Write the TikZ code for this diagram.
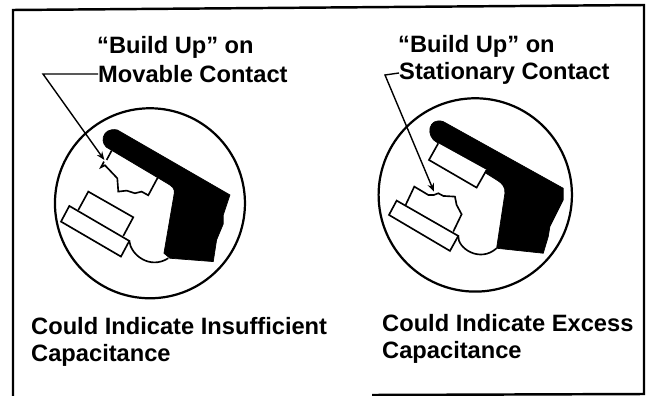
\documentclass[tikz,border=0pt]{standalone}
\usepackage{fontspec}
\setmainfont{Liberation Sans}
\usetikzlibrary{arrows.meta,positioning}

\begin{document}
\begin{tikzpicture}[
   x=0.03cm, y=-0.03cm, >={Stealth[length=7pt,width=5.5pt]},
   lbl/.style={font=\fontsize{20.2}{23}\selectfont\bfseries, anchor=west, inner sep=0pt, align=left},
   leader/.style={->, line width=1.2pt},
   rim/.style={line width=1.9pt},
   part/.style={line width=1.4pt, line join=miter, fill=white},
   solid/.style={fill=black, draw=black, line width=0.6pt},
   frameline/.style={line width=2.1pt}]
  \useasboundingbox (0,0) rectangle (647,396);
  % outer frame, open at lower left
  \draw[frameline] (13,396) -- (13,10) -- (644,5) -- (644,394) -- (372,395);
  % labels
  \node[lbl] (bu1) at (97,47) {``Build Up'' on};
  \node[lbl] (mc1) at (98,74) {Movable Contact};
  \node[lbl] (bu2) at (398,46) {``Build Up'' on};
  \node[lbl] (sc2) at (399,73) {Stationary Contact};
  \node[lbl] (ci1) at (31,342) {Could Indicate Insufficient\\ Capacitance};
  \node[lbl] (ci2) at (382,339) {Could Indicate Excess\\ Capacitance};
  % left detail
  \begin{scope}[shift={(60,80)}, x=0.01cm, y=-0.01cm]
    \node[circle, draw, rim, minimum size=5.7cm, inner sep=0pt] (rim1) at (270,370) {};
    \draw[solid] (172,150) -- (510,345) -- (490,405) -- (490,432) -- (470,480) -- (460,545)
       -- (330,535) -- (312,520) -- (343,340) .. controls (345,325) and (335,318) .. (325,312)
       -- (150,208) .. controls (115,195) and (125,140) .. (172,150) -- cycle;
    \draw[part, fill=none] (155,212) -- (140,240);
    \draw[part, fill=none] (132,245) -- (123,262) -- (135,256) -- (172,295) -- (175,335)
       -- (200,332) -- (225,340) -- (245,335) -- (265,346) -- (295,290);
    \draw[part] (55,390) -- (85,335) -- (220,412) -- (190,468);
    \draw[part] (28,378) -- (208,483) -- (183,530) -- (3,425) -- cycle;
    \draw[part, fill=none] (208,483) .. controls (212,525) and (270,570) .. (325,535);
    \coordinate (tip1) at (133,240);
  \end{scope}
  % right detail
  \begin{scope}[shift={(360,80)}, x=0.01cm, y=-0.01cm]
    \node[circle, draw, rim, minimum size=5.8cm, inner sep=0pt] (rim2) at (346,345) {};
    \draw[solid] (250,125) -- (610,325) -- (610,360) -- (590,400) -- (570,440) -- (565,470)
       -- (550,520) -- (410,505) -- (435,340) .. controls (437,320) and (425,310) .. (415,303)
       -- (232,188) .. controls (195,170) and (205,110) .. (250,125) -- cycle;
    \draw[part] (235,190) -- (207,240) -- (350,323) -- (380,270);
    \draw[part] (137,375) -- (163,320) -- (205,345) -- (222,345) -- (235,340) -- (250,348)
       -- (285,350) -- (290,375) -- (305,403) -- (280,455);
    \draw[part] (110,362) -- (295,468) -- (270,513) -- (87,405) -- cycle;
    \draw[part, fill=none] (295,468) .. controls (292,505) and (360,550) .. (410,505);
    \coordinate (tip2) at (222,335);
  \end{scope}
  % leaders
  \coordinate (elb1) at (43,74);
  \coordinate (elb2) at (385,75);
  \draw[leader] (mc1.west) -- (elb1) -- (tip1);
  \draw[leader] (sc2.west) -- (elb2) -- (tip2);
\end{tikzpicture}
\end{document}
